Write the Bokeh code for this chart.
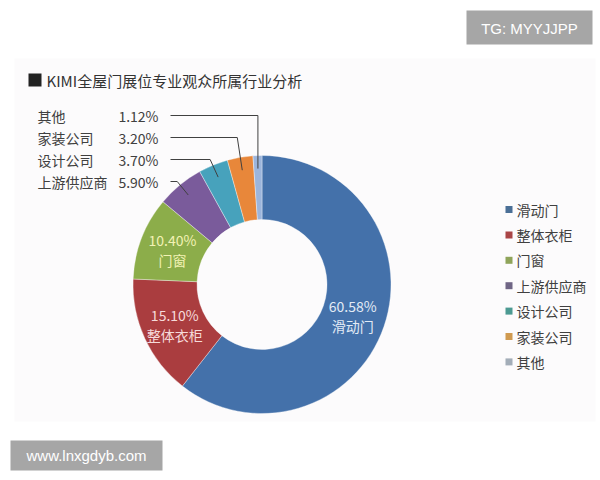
import math
from bokeh.plotting import figure
from bokeh.models import ColumnDataSource, Range1d
from bokeh.core.properties import value
from bokeh.embed import file_html
from bokeh.resources import INLINE

# ---------------- data ----------------
categories = ["滑动门", "整体衣柜", "门窗", "上游供应商", "设计公司", "家装公司", "其他"]
shares = [60.58, 15.10, 10.40, 5.90, 3.70, 3.20, 1.12]
pct_labels = ["60.58%", "15.10%", "10.40%", "5.90%", "3.70%", "3.20%", "1.12%"]
colors = ["#4471aa", "#aa3d3f", "#8cad4a", "#7a5b9b", "#47a2bc", "#e8873a", "#9cb5dc"]
legend_colors = ["#4a6f96", "#a94546", "#8fa45a", "#6f6585", "#4c9a92", "#d09a50", "#a3adb8"]
title = "KIMI全屋门展位专业观众所属行业分析"

W, H = 600, 480
CJK = value("Noto Sans CJK SC")
LAT = value("Liberation Sans")


def X(px):
    return px


def Y(py):
    return H - py


p = figure(width=W, height=H, output_backend="svg", toolbar_location=None,
           x_range=Range1d(0, W), y_range=Range1d(0, H), min_border=0)
p.axis.visible = False
p.grid.visible = False
p.outline_line_color = None
p.background_fill_color = "white"
p.border_fill_color = "white"

# faint chart panel
p.quad(left=X(14), right=X(595), top=Y(58), bottom=Y(421),
       fill_color="#fcfbfc", line_color=None)

# ---------------- donut ----------------
cx, cy = X(261.5), Y(284)
r_in, r_out = 65, 129
total = sum(shares)
starts, ends, mids = [], [], []
cum = 0.0
for s in shares:
    a0 = math.pi / 2 - 2 * math.pi * cum / total
    cum += s
    a1 = math.pi / 2 - 2 * math.pi * cum / total
    starts.append(a1)
    ends.append(a0)
    mids.append((a0 + a1) / 2)

src = ColumnDataSource(dict(start=starts, end=ends, color=colors))
p.annular_wedge(x=cx, y=cy, inner_radius=r_in, outer_radius=r_out,
                start_angle="start", end_angle="end", fill_color="color",
                line_color="white", line_width=0.6, line_alpha=0.6, source=src)

# inside labels for the three big slices
r_lab = 96
in_colors = ["#e2ebf6", "#f6dada", "#f2f2b4"]
lx, ly1, ly2, ltxt1, ltxt2, lcol = [], [], [], [], [], []
for i in range(3):
    x0 = cx + r_lab * math.cos(mids[i])
    y0 = cy + r_lab * math.sin(mids[i])
    lx.append(x0)
    ly1.append(y0 + 10)
    ly2.append(y0 - 10)
    ltxt1.append(pct_labels[i])
    ltxt2.append(categories[i])
    lcol.append(in_colors[i])
p.text(x=lx, y=ly1, text=ltxt1, text_color=lcol, text_font=CJK,
       text_font_size="14px", text_align="center", text_baseline="middle")
p.text(x=lx, y=ly2, text=ltxt2, text_color=lcol, text_font=CJK,
       text_font_size="14px", text_align="center", text_baseline="middle")

# outside labels with leader lines for the small slices
row_y = {3: 181, 4: 159, 5: 137, 6: 115}
elbow_off = {3: 11, 4: 8, 5: 5, 6: 0}
r_lead = 116
nx, ny, nt, ptx, pty, ptt = [], [], [], [], [], []
for i in range(3, 7):
    ex = cx + r_lead * math.cos(mids[i])
    ey = cy + r_lead * math.sin(mids[i])
    ry = Y(row_y[i])
    bx = ex - elbow_off[i]
    p.line(x=[X(170), bx, ex], y=[ry, ry, ey], line_color="#404040", line_width=1)
    nx.append(X(37)); ny.append(ry); nt.append(categories[i])
    ptx.append(X(158)); pty.append(ry); ptt.append(pct_labels[i])
p.text(x=nx, y=ny, text=nt, text_color="#404040", text_font=CJK,
       text_font_size="14px", text_align="left", text_baseline="middle")
p.text(x=ptx, y=pty, text=ptt, text_color="#404040", text_font=CJK,
       text_font_size="14px", text_align="right", text_baseline="middle")

# ---------------- title ----------------
p.quad(left=X(28), right=X(41), top=Y(73), bottom=Y(86), fill_color="#222222", line_color=None)
p.text(x=[X(46)], y=[Y(80)], text=[title], text_color="#333333", text_font=CJK,
       text_font_size="15px", text_align="left", text_baseline="middle")

# ---------------- legend ----------------
leg_y = [Y(209 + 25.4 * k) for k in range(len(categories))]
p.rect(x=[X(508.5)] * len(categories), y=leg_y, width=7, height=7,
       fill_color=legend_colors, line_color=None)
p.text(x=[X(516)] * len(categories), y=leg_y, text=categories, text_color="#404040",
       text_font=CJK, text_font_size="14px", text_align="left", text_baseline="middle")

# ---------------- watermarks ----------------
p.quad(left=X(466), right=X(592), top=Y(10), bottom=Y(44), fill_color="#a6a6a6", line_color=None)
p.text(x=[X(529)], y=[Y(27.5)], text=["TG: MYYJJPP"], text_color="white", text_font=LAT,
       text_font_size="15px", text_align="center", text_baseline="middle")
p.quad(left=X(10), right=X(162), top=Y(440), bottom=Y(470), fill_color="#a6a6a6", line_color=None)
p.text(x=[X(86)], y=[Y(455)], text=["www.lnxgdyb.com"], text_color="white", text_font=LAT,
       text_font_size="15px", text_align="center", text_baseline="middle")

open("out.html", "w").write(file_html(p, INLINE))
